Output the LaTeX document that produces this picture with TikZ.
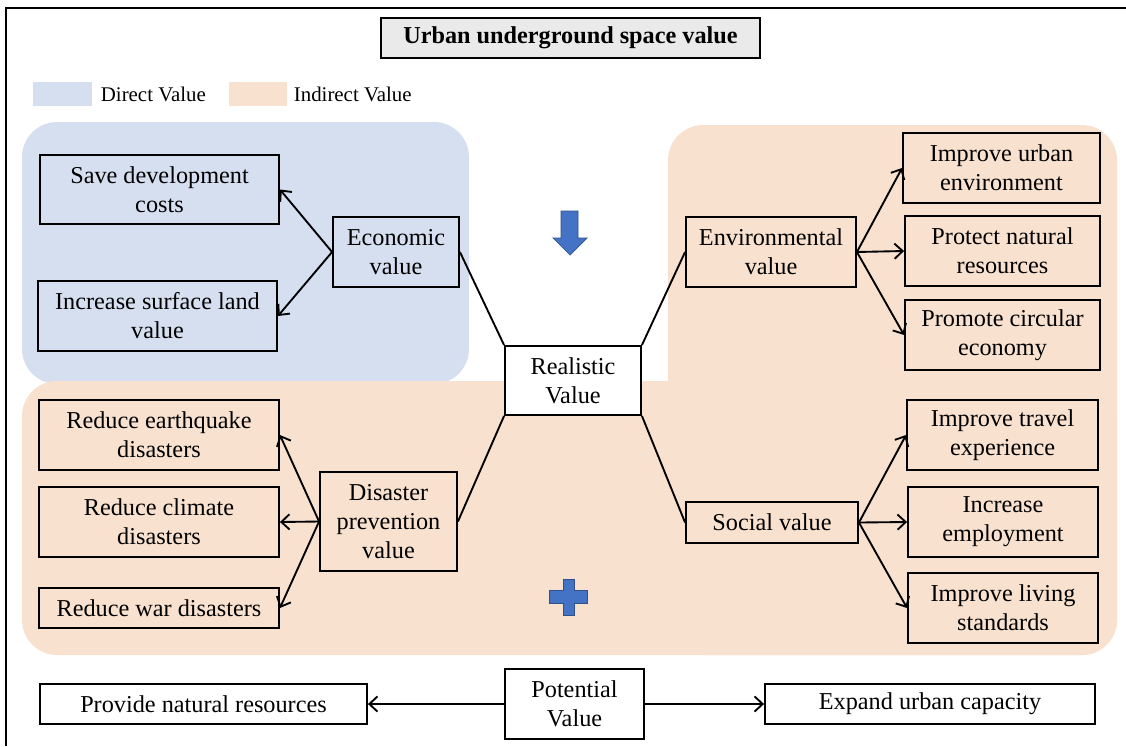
\documentclass[tikz,border=0pt]{standalone}
\usepackage{fontspec}
\setmainfont{Liberation Serif}
\usetikzlibrary{arrows.meta}
\definecolor{directblue}{HTML}{D6DFF0}
\definecolor{indirectorange}{HTML}{F8E1CE}
\definecolor{titlegray}{HTML}{EAEAEA}
\definecolor{markblue}{HTML}{4472C4}
\tikzset{
every picture/.style={
line width=1.6pt
},
valbox/.style={draw, align=center, inner sep=1pt, font=\fontsize{20.7}{24.7}\selectfont},
legendtxt/.style={anchor=west, inner sep=0pt, font=\fontsize{17.8}{21}\selectfont},
link/.style={-{Straight Barb[length=7pt,width=13pt,line width=1.6pt]}}
}
\newcommand{\px}{0.03cm}

\begin{document}
\begin{tikzpicture}[x=0.03cm, y=-0.03cm]
  \useasboundingbox (0,0) rectangle (1126,746);
  \draw [line width=1.2pt] (6,746) -- (6,8) -- (1126,8);

  % coloured areas
  \fill [directblue, rounded corners=30] (22,122) rectangle (469,384);
  \fill [indirectorange, rounded corners=30] (668,125) rectangle (1117,655);
  \fill [indirectorange, rounded corners=30] (22,381) rectangle (1117,655);

  \node [valbox, fill=titlegray, line width=2.4pt, font=\fontsize{20.7}{24.7}\selectfont\bfseries,
    minimum width=379*\px, minimum height=40*\px] (title) at (570.5,38) {Urban underground space value};

  \fill [directblue] (33,82) rectangle (92,106);
  \node [legendtxt] (direct) at (100,94) {Direct Value};
  \fill [indirectorange] (229,82) rectangle (287,106);
  \node [legendtxt] (indirect) at (293,94) {Indirect Value};

  \foreach \n/\x/\y/\w/\h/\l in {
    save/159.5/189.5/239/69/{Save development\\costs},
    land/157.5/316/239/70/{Increase surface land\\value},
    econ/396/252/126/70/{Economic\\value},
    env/771/252/170/70/{Environmental\\value},
    urbenv/1001.5/168/197/70/{Improve urban\\environment},
    protect/1002.5/251/195/70/{Protect natural\\resources},
    circ/1002.5/335/195/70/{Promote circular\\economy},
    quake/159/435/240/70/{Reduce earthquake\\disasters},
    climate/159/522/240/70/{Reduce climate\\disasters},
    war/159/608/240/40/{Reduce war disasters},
    disaster/388.5/521.5/137/99/{Disaster\\prevention\\value},
    social/772/522.5/172/41/{Social value},
    travel/1002.5/435/191/70/{Improve travel\\experience},
    employ/1003/522/190/70/{Increase\\employment},
    living/1003/608/190/70/{Improve living\\standards},
    provide/203.5/704/327/40/{Provide natural resources},
    expand/930/704/330/40/{Expand urban capacity}} {
    \node [valbox, minimum width=\w*\px, minimum height=\h*\px] (\n) at (\x,\y) {\l};
  }
  \node [valbox, fill=white, minimum width=136*\px, minimum height=69*\px] (real) at (573,380.5) {Realistic\\Value};
  \node [valbox, fill=white, minimum width=139*\px, minimum height=70*\px] (pot) at (574.5,704) {Potential\\Value};

  \draw (econ.east) -- (real.north west);
  \draw (env.west) -- (real.north east);
  \draw (disaster.east) -- (real.south west);
  \draw (social.west) -- (real.south east);

  \foreach \t in {save, land} \draw [link] (econ.west) -- (\t.east);
  \foreach \t in {quake, climate, war} \draw [link] (disaster.west) -- (\t.east);
  \foreach \t in {urbenv, protect, circ} \draw [link] (env.east) -- (\t.west);
  \foreach \t in {travel, employ, living} \draw [link] (social.east) -- (\t.west);
  \draw [link] (pot.west) -- (provide.east);
  \draw [link] (pot.east) -- (expand.west);

  % arrow and plus marks
  \draw [fill=markblue, draw=markblue!70!black, line width=0.6pt]
    (561,211) -- (578,211) -- (578,238) -- (587,238) -- (570,255) -- (553,238) -- (561,238) -- cycle;
  \draw [fill=markblue, draw=markblue!70!black, line width=0.6pt]
    (563,579) -- (574,579) -- (574,590) -- (587,590) -- (587,603) -- (574,603) -- (574,615)
    -- (563,615) -- (563,603) -- (549,603) -- (549,590) -- (563,590) -- cycle;
\end{tikzpicture}
\end{document}
